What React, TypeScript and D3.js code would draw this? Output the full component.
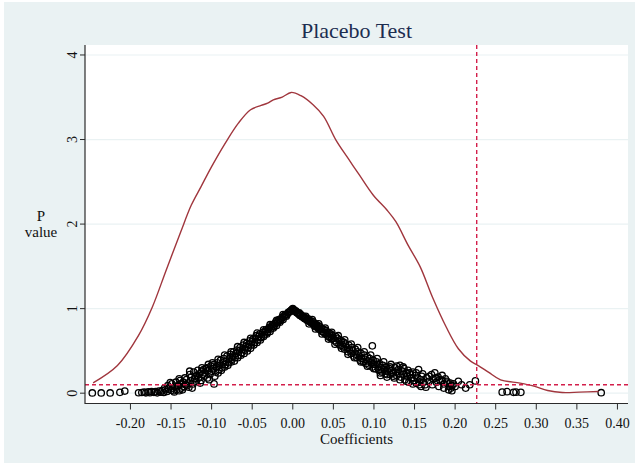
import React, { useRef, useEffect } from "react"
import * as d3 from "d3"

const chart_width = 635
const chart_height = 463

// kernel density of the placebo coefficients
const densityCoef = [
  -0.246, -0.216, -0.19, -0.173, -0.156, -0.138, -0.125, -0.113, -0.1, -0.082,
  -0.067, -0.052, -0.039, -0.031, -0.024, -0.013, -0.002, 0.01, 0.025, 0.038,
  0.053, 0.068, 0.082, 0.099, 0.116, 0.127, 0.142, 0.157, 0.172, 0.189, 0.204,
  0.219, 0.228, 0.241, 0.256, 0.28, 0.297, 0.314, 0.332, 0.353, 0.377,
]
const densityValue = [
  0.123, 0.328, 0.684, 1.02, 1.455, 1.909, 2.225, 2.443, 2.68, 2.976, 3.194,
  3.352, 3.403, 3.431, 3.47, 3.502, 3.557, 3.518, 3.411, 3.273, 2.996, 2.779,
  2.581, 2.344, 2.166, 2.028, 1.751, 1.494, 1.138, 0.783, 0.526, 0.379, 0.328,
  0.249, 0.158, 0.119, 0.083, 0.032, 0.008, 0.012, 0.02,
]

// [coefficient, p value] of each placebo draw
const placeboDraws = [
  [-0.247, 0.003], [-0.236, 0.003], [-0.225, 0.003], [-0.213, 0.01], [-0.207, 0.025],
  [-0.19, 0.005], [-0.186, 0.008], [-0.183, 0.012], [-0.181, 0.004], [-0.178, 0.015],
  [-0.176, 0.006], [-0.174, 0.02], [-0.171, 0.01], [-0.169, 0.018], [-0.167, 0.004],
  [-0.165, 0.025], [-0.163, 0.012], [-0.161, 0.03], [-0.159, 0.008], [-0.157, 0.04],
  [-0.155, 0.02], [-0.153, 0.05], [-0.151, 0.125], [-0.15, 0.035], [-0.148, 0.06],
  [-0.146, 0.015], [-0.145, 0.08], [-0.143, 0.045], [-0.141, 0.09], [-0.14, 0.03],
  [-0.138, 0.11], [-0.137, 0.06], [-0.135, 0.13], [-0.134, 0.08], [-0.132, 0.1],
  [-0.131, 0.16], [-0.129, 0.12], [-0.128, 0.07], [-0.126, 0.15], [-0.125, 0.19],
  [-0.123, 0.11], [-0.122, 0.25], [-0.121, 0.17], [-0.119, 0.14], [-0.118, 0.21],
  [-0.116, 0.18], [-0.115, 0.23], [-0.113, 0.15], [-0.112, 0.26], [-0.11, 0.28],
  [-0.109, 0.2], [-0.108, 0.24], [-0.106, 0.3], [-0.105, 0.18], [-0.104, 0.27],
  [-0.102, 0.22], [-0.101, 0.32], [-0.1, 0.26], [-0.098, 0.29], [-0.097, 0.11],
  [-0.097, 0.34], [-0.095, 0.25], [-0.094, 0.31], [-0.093, 0.36], [-0.091, 0.28],
  [-0.09, 0.33], [-0.089, 0.39], [-0.087, 0.3], [-0.086, 0.36], [-0.085, 0.41],
  [-0.083, 0.34], [-0.082, 0.38], [-0.081, 0.44], [-0.079, 0.36], [-0.078, 0.41],
  [-0.077, 0.46], [-0.075, 0.4], [-0.074, 0.44], [-0.073, 0.49], [-0.071, 0.42],
  [-0.07, 0.47], [-0.069, 0.51], [-0.067, 0.45], [-0.066, 0.5], [-0.065, 0.54],
  [-0.063, 0.48], [-0.062, 0.52], [-0.061, 0.57], [-0.059, 0.51], [-0.058, 0.55],
  [-0.057, 0.59], [-0.055, 0.54], [-0.054, 0.58], [-0.053, 0.62], [-0.051, 0.57],
  [-0.05, 0.61], [-0.049, 0.64], [-0.047, 0.6], [-0.046, 0.65], [-0.045, 0.68],
  [-0.043, 0.63], [-0.042, 0.67], [-0.041, 0.7], [-0.039, 0.66], [-0.038, 0.7],
  [-0.037, 0.72], [-0.035, 0.69], [-0.034, 0.73], [-0.033, 0.75], [-0.031, 0.72],
  [-0.03, 0.76], [-0.029, 0.78], [-0.027, 0.76], [-0.026, 0.79], [-0.025, 0.81],
  [-0.023, 0.79], [-0.022, 0.82], [-0.021, 0.84], [-0.019, 0.83], [-0.018, 0.85],
  [-0.017, 0.87], [-0.015, 0.86], [-0.014, 0.88], [-0.013, 0.9], [-0.011, 0.9],
  [-0.01, 0.92], [-0.009, 0.93], [-0.007, 0.93], [-0.006, 0.95], [-0.005, 0.96],
  [-0.004, 0.96], [-0.003, 0.97], [-0.002, 0.98], [-0.001, 0.99], [0.0, 1.0],
  [0.001, 0.99], [0.002, 0.98], [0.003, 0.97], [0.004, 0.97], [0.005, 0.95],
  [0.006, 0.95], [0.007, 0.94], [0.008, 0.93], [0.009, 0.92], [0.01, 0.93],
  [0.011, 0.91], [0.012, 0.9], [0.013, 0.91], [0.014, 0.89], [0.015, 0.88],
  [0.016, 0.89], [0.017, 0.87], [0.018, 0.86], [0.019, 0.88], [0.02, 0.85],
  [0.021, 0.86], [0.022, 0.84], [0.023, 0.83], [0.024, 0.85], [0.025, 0.82],
  [0.026, 0.8], [0.027, 0.83], [0.028, 0.79], [0.029, 0.81], [0.03, 0.78],
  [0.031, 0.8], [0.032, 0.76], [0.033, 0.79], [0.034, 0.75], [0.035, 0.77],
  [0.036, 0.73], [0.037, 0.76], [0.038, 0.72], [0.039, 0.75], [0.04, 0.7],
  [0.041, 0.74], [0.042, 0.69], [0.043, 0.72], [0.044, 0.67], [0.045, 0.71],
  [0.046, 0.66], [0.047, 0.7], [0.048, 0.64], [0.049, 0.68], [0.05, 0.65],
  [0.052, 0.62], [0.053, 0.67], [0.054, 0.6], [0.055, 0.65], [0.057, 0.58],
  [0.058, 0.63], [0.059, 0.56], [0.06, 0.62], [0.062, 0.55], [0.063, 0.6],
  [0.064, 0.52], [0.065, 0.58], [0.067, 0.54], [0.068, 0.49], [0.069, 0.57],
  [0.07, 0.51], [0.072, 0.47], [0.073, 0.54], [0.074, 0.5], [0.075, 0.44],
  [0.077, 0.52], [0.078, 0.46], [0.079, 0.42], [0.08, 0.49], [0.082, 0.44],
  [0.083, 0.39], [0.084, 0.47], [0.085, 0.41], [0.087, 0.37], [0.088, 0.45],
  [0.089, 0.4], [0.09, 0.35], [0.092, 0.43], [0.093, 0.38], [0.094, 0.33],
  [0.095, 0.41], [0.097, 0.36], [0.098, 0.56], [0.098, 0.31], [0.099, 0.39],
  [0.101, 0.34], [0.102, 0.29], [0.103, 0.37], [0.105, 0.32], [0.106, 0.27],
  [0.107, 0.35], [0.108, 0.21], [0.109, 0.3], [0.11, 0.25], [0.111, 0.33],
  [0.113, 0.28], [0.114, 0.23], [0.115, 0.31], [0.116, 0.19], [0.117, 0.26],
  [0.119, 0.29], [0.12, 0.22], [0.121, 0.34], [0.122, 0.27], [0.124, 0.24],
  [0.125, 0.18], [0.126, 0.3], [0.127, 0.25], [0.128, 0.21], [0.13, 0.28],
  [0.131, 0.23], [0.132, 0.33], [0.133, 0.19], [0.135, 0.26], [0.136, 0.22],
  [0.137, 0.29], [0.138, 0.16], [0.14, 0.24], [0.141, 0.2], [0.142, 0.27],
  [0.143, 0.13], [0.145, 0.22], [0.146, 0.18], [0.148, 0.25], [0.149, 0.15],
  [0.151, 0.21], [0.152, 0.12], [0.154, 0.18], [0.155, 0.28], [0.156, 0.1],
  [0.157, 0.16], [0.158, 0.08], [0.159, 0.2], [0.161, 0.13], [0.163, 0.1],
  [0.165, 0.18], [0.168, 0.14], [0.171, 0.22], [0.173, 0.17], [0.175, 0.24],
  [0.177, 0.13], [0.179, 0.19], [0.181, 0.16], [0.184, 0.21], [0.186, 0.11],
  [0.188, 0.17], [0.19, 0.14], [0.192, 0.04], [0.193, 0.08], [0.194, 0.12],
  [0.195, 0.06], [0.198, 0.11], [0.2, 0.08], [0.204, 0.14], [0.213, 0.06],
  [0.218, 0.1], [0.225, 0.145],
  [0.258, 0.012], [0.264, 0.018], [0.272, 0.01], [0.275, 0.012], [0.281, 0.01],
  [0.38, 0.006],
  // second pass: the wider spread around the band
  [-0.158, 0.06], [-0.154, 0.09], [-0.149, 0.11], [-0.147, 0.03], [-0.144, 0.13],
  [-0.139, 0.15], [-0.136, 0.04], [-0.133, 0.18], [-0.13, 0.09], [-0.127, 0.22],
  [-0.124, 0.06], [-0.12, 0.2], [-0.117, 0.27], [-0.114, 0.12], [-0.111, 0.22],
  [-0.107, 0.29], [-0.103, 0.16], [-0.099, 0.36], [-0.096, 0.2], [-0.092, 0.24],
  [-0.088, 0.27], [-0.084, 0.31], [-0.08, 0.33], [-0.076, 0.37], [-0.072, 0.38],
  [-0.068, 0.42], [-0.064, 0.45], [-0.06, 0.47], [-0.056, 0.5], [-0.052, 0.53],
  [-0.048, 0.57], [-0.044, 0.6], [-0.04, 0.63], [-0.036, 0.67], [-0.032, 0.7],
  [-0.028, 0.73], [-0.024, 0.77], [-0.02, 0.8], [-0.016, 0.84], [-0.012, 0.87],
  [-0.008, 0.91], [-0.092, 0.4], [-0.084, 0.45], [-0.076, 0.49], [-0.068, 0.55],
  [-0.06, 0.6], [-0.052, 0.65], [-0.044, 0.71], [-0.036, 0.75], [-0.028, 0.81],
  [-0.02, 0.86], [-0.012, 0.93], [-0.104, 0.34], [-0.112, 0.3], [-0.127, 0.26],
  [-0.14, 0.17],
  [0.008, 0.95], [0.016, 0.91], [0.024, 0.87], [0.032, 0.82], [0.04, 0.77],
  [0.048, 0.72], [0.056, 0.68], [0.064, 0.63], [0.072, 0.58], [0.08, 0.54],
  [0.088, 0.49], [0.096, 0.45], [0.104, 0.41], [0.112, 0.37], [0.12, 0.31],
  [0.128, 0.32], [0.136, 0.31], [0.144, 0.24], [0.152, 0.24], [0.16, 0.23],
  [0.168, 0.2], [0.176, 0.18], [0.184, 0.15], [0.19, 0.12],
  [0.02, 0.82], [0.028, 0.76], [0.036, 0.7], [0.044, 0.64], [0.052, 0.58],
  [0.06, 0.53], [0.068, 0.46], [0.076, 0.42], [0.084, 0.37], [0.092, 0.32],
  [0.1, 0.29], [0.108, 0.24], [0.116, 0.22], [0.124, 0.2], [0.132, 0.16],
  [0.14, 0.14], [0.148, 0.11], [0.156, 0.13], [0.164, 0.07], [0.172, 0.1],
  [0.18, 0.08], [0.186, 0.06], [0.196, 0.03], [0.196, 0.09], [0.208, 0.1],
]

const xTicks = [-0.2, -0.15, -0.1, -0.05, 0, 0.05, 0.1, 0.15, 0.2, 0.25, 0.3, 0.35, 0.4]
const yTicks = [0, 1, 2, 3, 4]
const trueCoef = 0.2266
const pCutoff = 0.1

const serif = "'Liberation Serif', 'Times New Roman', serif"

const PlaceboChart = () => {
  const d3Container = useRef(null)

  useEffect(() => {
    if (!d3Container.current) return
    const svg = d3.select(d3Container.current)
    svg.selectAll("*").remove()

    // outer background
    svg.append("rect").attr("x", 0).attr("y", 0)
      .attr("width", chart_width).attr("height", chart_height).attr("fill", "#ffffff")
    svg.append("rect").attr("x", 4).attr("y", 2)
      .attr("width", chart_width - 4).attr("height", chart_height - 2).attr("fill", "#eaf2f3")

    const left = 85, right = 628, top = 45, bottom = 403.5
    const x_scale = d3.scaleLinear().domain([-0.256, 0.413]).range([left, right])
    const y_scale = d3.scaleLinear().domain([-0.122, 4.118]).range([bottom, top])

    svg.append("rect").attr("x", left).attr("y", top)
      .attr("width", right - left).attr("height", bottom - top).attr("fill", "#ffffff")

    // grid
    svg.append("g").selectAll("line").data(yTicks).enter().append("line")
      .attr("x1", left).attr("x2", right)
      .attr("y1", d => y_scale(d)).attr("y2", d => y_scale(d))
      .attr("stroke", "#eaf2f3").attr("stroke-width", 1.2)

    // scatter of placebo draws
    svg.append("g").selectAll("circle").data(placeboDraws).enter().append("circle")
      .attr("cx", d => x_scale(d[0]))
      .attr("cy", d => y_scale(d[1]))
      .attr("r", 3.2)
      .attr("fill", "none")
      .attr("stroke", "#000000")
      .attr("stroke-width", 1.3)

    // density line
    const line = d3.line()
      .x(d => x_scale(d[0]))
      .y(d => y_scale(d[1]))
      .curve(d3.curveCatmullRom)
    svg.append("path")
      .datum(densityCoef.map((c, i) => [c, densityValue[i]]))
      .attr("d", line)
      .attr("fill", "none")
      .attr("stroke", "#a0363d")
      .attr("stroke-width", 1.4)

    // reference lines
    svg.append("line")
      .attr("x1", left).attr("x2", right)
      .attr("y1", y_scale(pCutoff)).attr("y2", y_scale(pCutoff))
      .attr("stroke", "#d31f4b").attr("stroke-width", 1.4).attr("stroke-dasharray", "4,3")
    svg.append("line")
      .attr("x1", x_scale(trueCoef)).attr("x2", x_scale(trueCoef))
      .attr("y1", top).attr("y2", bottom)
      .attr("stroke", "#d31f4b").attr("stroke-width", 1.4).attr("stroke-dasharray", "4,3")

    // axes
    svg.append("line").attr("x1", left).attr("x2", left).attr("y1", top).attr("y2", bottom + 0.5)
      .attr("stroke", "#2b2b2b").attr("stroke-width", 1.2)
    svg.append("line").attr("x1", left).attr("x2", right).attr("y1", bottom).attr("y2", bottom)
      .attr("stroke", "#2b2b2b").attr("stroke-width", 1.2)

    const yAxisG = svg.append("g")
    yAxisG.selectAll("line").data(yTicks).enter().append("line")
      .attr("x1", left - 5).attr("x2", left)
      .attr("y1", d => y_scale(d)).attr("y2", d => y_scale(d))
      .attr("stroke", "#2b2b2b").attr("stroke-width", 1)
    yAxisG.selectAll("text").data(yTicks).enter().append("text")
      .attr("transform", d => "translate(" + (left - 13) + "," + y_scale(d) + ") rotate(-90)")
      .attr("text-anchor", "middle")
      .attr("dy", "0.35em")
      .attr("font-family", serif).attr("font-size", 14).attr("fill", "#111")
      .text(d => d)

    const xAxisG = svg.append("g")
    xAxisG.selectAll("line").data(xTicks).enter().append("line")
      .attr("x1", d => x_scale(d)).attr("x2", d => x_scale(d))
      .attr("y1", bottom).attr("y2", bottom + 6)
      .attr("stroke", "#2b2b2b").attr("stroke-width", 1)
    xAxisG.selectAll("text").data(xTicks).enter().append("text")
      .attr("x", d => x_scale(d)).attr("y", 428)
      .attr("text-anchor", "middle")
      .attr("font-family", serif).attr("font-size", 14).attr("fill", "#111")
      .text(d => d3.format(".2f")(d).replace("−", "-"))

    // titles
    svg.append("text").attr("x", (left + right) / 2).attr("y", 38)
      .attr("text-anchor", "middle").attr("font-family", serif)
      .attr("font-size", 22).attr("fill", "#1c2d50").text("Placebo Test")
    svg.append("text").attr("x", (left + right) / 2).attr("y", 444)
      .attr("text-anchor", "middle").attr("font-family", serif)
      .attr("font-size", 15).attr("fill", "#111").text("Coefficients")
    svg.append("text").attr("x", 41).attr("y", 221)
      .attr("text-anchor", "middle").attr("font-family", serif)
      .attr("font-size", 15).attr("fill", "#111").text("P")
    svg.append("text").attr("x", 41).attr("y", 237)
      .attr("text-anchor", "middle").attr("font-family", serif)
      .attr("font-size", 15).attr("fill", "#111").text("value")
  }, [])

  return (
    <svg
      ref={d3Container}
      width={chart_width}
      height={chart_height}
      style={{ position: "absolute", left: 0, top: 0 }}
    />
  )
}

export default function App() {
  return <PlaceboChart />
}
